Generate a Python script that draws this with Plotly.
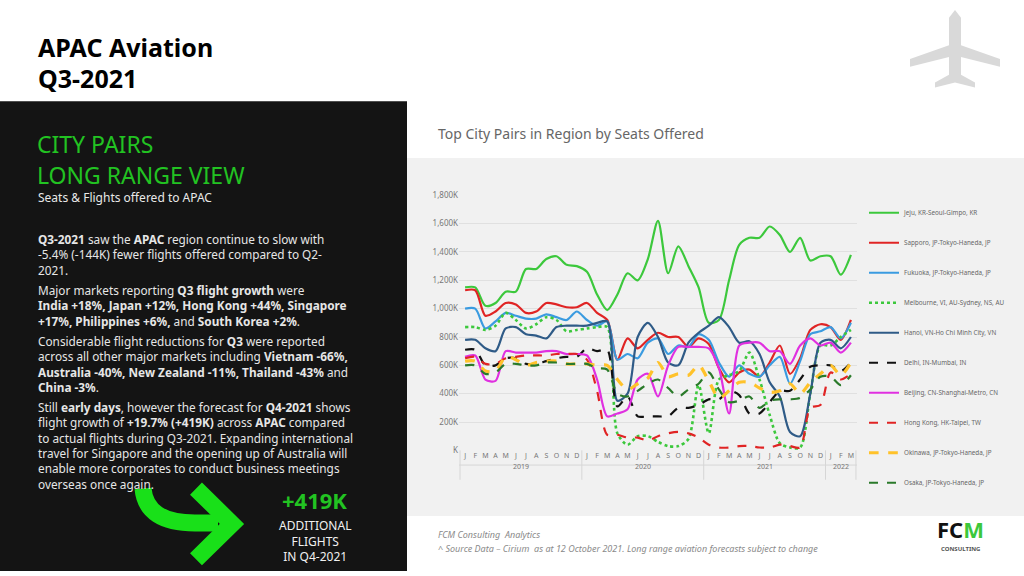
import plotly.graph_objects as go

W, H = 1024, 576
def px(x): return x / W
def py(y): return 1 - y / H

months = ["J","F","M","A","M","J","J","A","S","O","N","D"] * 3 + ["J","F","M"]
years = ["2019", "2020", "2021", "2022"]
year_centers = [5.5, 17.5, 29.5, 37]

names = ["Jeju, KR-Seoul-Gimpo, KR", "Sapporo, JP-Tokyo-Haneda, JP", "Fukuoka, JP-Tokyo-Haneda, JP",
         "Melbourne, VI, AU-Sydney, NS, AU", "Hanoi, VN-Ho Chi Minh City, VN", "Delhi, IN-Mumbai, IN",
         "Beijing, CN-Shanghai-Metro, CN", "Hong Kong, HK-Taipei, TW", "Okinawa, JP-Tokyo-Haneda, JP",
         "Osaka, JP-Tokyo-Haneda, JP"]

jeju = [1150,1150,1020,1040,1120,1120,1280,1280,1350,1370,1310,1300,1260,1100,990,1100,1250,1200,1350,1620,1250,1440,1300,1150,900,920,1200,1450,1500,1500,1580,1520,1400,1500,1340,1370,1370,1240,1380]
sapporo = [1130,1130,950,980,1040,1030,970,980,1040,1030,1010,1010,1040,970,920,640,790,720,780,830,800,800,730,790,750,580,480,550,570,520,620,740,540,650,850,890,870,780,920]
fukuoka = [1000,1000,860,910,970,950,930,930,960,940,920,980,920,880,910,640,680,650,760,790,680,740,730,820,780,620,520,600,540,520,600,660,470,630,820,840,870,790,900]
melbourne = [870,870,850,880,970,920,860,890,940,920,840,850,860,870,870,120,40,100,100,60,30,30,80,460,120,500,530,560,690,500,250,50,20,20,400,740,740,800,850]
hanoi = [780,780,720,700,860,870,820,810,790,870,880,880,880,900,910,350,400,800,900,800,620,600,760,830,880,940,870,760,770,680,480,380,130,100,400,760,780,720,800]
delhi = [710,710,600,600,650,650,610,610,630,650,660,660,720,700,710,310,380,240,240,240,240,300,300,320,360,360,420,390,260,260,340,420,420,500,590,600,600,560,620]
beijing = [660,670,500,490,700,690,690,690,700,700,680,680,670,500,240,260,290,500,540,380,600,730,730,730,720,580,260,740,760,760,700,700,610,740,790,740,760,690,760]
hongkong = [650,660,610,610,650,660,670,670,670,680,680,680,640,420,110,110,90,90,70,100,120,130,120,90,40,20,20,30,30,20,20,40,30,20,300,320,550,500,540]
okinawa = [630,630,560,560,660,640,600,620,630,630,610,610,610,600,600,500,430,470,510,620,520,540,530,600,490,370,420,480,480,440,410,420,470,400,480,540,600,530,620]
osaka = [600,600,540,550,610,610,600,600,620,620,610,610,610,580,570,400,380,420,470,500,440,380,430,470,550,430,340,350,380,300,350,360,360,370,430,520,520,460,530]

series = [jeju, sapporo, fukuoka, melbourne, hanoi, delhi, beijing, hongkong, okinawa, osaka]
colors = ["#3cc83c", "#e02424", "#3a9be0", "#3cc83c", "#2f5b87", "#111111", "#e030e0", "#e02424", "#ffc22a", "#2a7a2a"]
dashes = ["solid", "solid", "solid", "dot", "solid", "dash", "solid", "dash", "dash", "dash"]
widths = [2.2, 2.2, 2.2, 2.6, 2.2, 2.2, 2.2, 2.2, 3.2, 2.2]

fig = go.Figure()
x = list(range(len(months)))
for i, (n, s) in enumerate(zip(names, series)):
    fig.add_trace(go.Scatter(x=x, y=s, name=n, mode="lines", legendgroup=str(i),
                             line=dict(color=colors[i], dash=dashes[i], width=widths[i], shape="spline", smoothing=0.8)))

shapes = []
shapes.append(dict(type="rect", xref="paper", yref="paper", x0=px(407), x1=1, y0=py(520), y1=py(155),
                   fillcolor="#f1f1f1", line_width=0, layer="below"))
shapes.append(dict(type="rect", xref="paper", yref="paper", x0=0, x1=px(407), y0=0, y1=py(97),
                   fillcolor="#141414", line_width=0, layer="below"))
for b in [-0.5, 11.5, 23.5, 35.5, 38.5]:
    shapes.append(dict(type="line", xref="x", yref="paper", x0=b, x1=b, y0=py(483), y1=py(453),
                       line=dict(color="#d6d6d6", width=1)))
shapes.append(dict(type="line", xref="paper", yref="paper", x0=px(459), x1=px(857), y0=py(468), y1=py(468),
                   line=dict(color="#d6d6d6", width=1)))
shapes.append(dict(type="path", xref="paper", yref="paper",
                   path=f"M {px(143)} {py(492)} Q {px(146)} {py(527)} {px(195)} {py(527)} L {px(218)} {py(527)}",
                   line=dict(color="#19e019", width=17)))
shapes.append(dict(type="path", xref="paper", yref="paper",
                   path=f"M {px(196)} {py(492)} L {px(232)} {py(528)} L {px(196)} {py(564)}",
                   line=dict(color="#19e019", width=17)))
plane = [(955,4),(961,12),(961,40),(1000,54),(1000,62),(961,52),(961,70),(975,78),(975,83),(955,78),
         (935,83),(935,78),(949,70),(949,52),(910,62),(910,54),(949,40),(949,12)]
path = "M " + " L ".join(f"{px(a)} {py(b)}" for a, b in plane) + " Z"
shapes.append(dict(type="path", xref="paper", yref="paper", path=path, fillcolor="#d9d9d9", line_width=0))

ann = []
F = "Noto Sans"
def A(xp, yp, text, size, color, xanchor="left", yanchor="middle", **kw):
    ann.append(dict(xref="paper", yref="paper", x=px(xp), y=py(yp), text=text, showarrow=False,
                    xanchor=xanchor, yanchor=yanchor, align=kw.pop("align", "left"),
                    font=dict(family=kw.pop("family", F), size=size, color=color), **kw))

A(36, 42, "<b>APAC Aviation</b>", 25, "#000000")
A(36, 73, "<b>Q3-2021</b>", 25, "#000000")
A(35, 141, "CITY PAIRS", 23, "#22c322")
A(35, 172, "LONG RANGE VIEW", 23, "#22c322")
A(36, 195, "Seats &amp; Flights offered to APAC", 12, "#e8e8e8")
body = "#e6e6e6"
paras = [
    (227, "<b>Q3-2021</b> saw the <b>APAC</b> region continue to slow with<br>-5.4% (-144K) fewer flights offered compared to Q2-<br>2021."),
    (279, "Major markets reporting <b>Q3 flight growth</b> were<br><b>India +18%, Japan +12%, Hong Kong +44%, Singapore</b><br><b>+17%, Philippines +6%,</b> and <b>South Korea +2%</b>."),
    (331, "Considerable flight reductions for <b>Q3</b> were reported<br>across all other major markets including <b>Vietnam -66%,</b><br><b>Australia -40%, New Zealand -11%, Thailand -43%</b> and<br><b>China -3%</b>."),
    (399, "Still <b>early days</b>, however the forecast for <b>Q4-2021</b> shows<br>flight growth of <b>+19.7% (+419K)</b> across <b>APAC</b> compared<br>to actual flights during Q3-2021. Expanding international<br>travel for Singapore and the opening up of Australia will<br>enable more corporates to conduct business meetings<br>overseas once again."),
]
for y0, t in paras:
    A(36, y0, t, 11.8, body, yanchor="top")
A(314, 504, "<b>+419K</b>", 22, "#22c322", xanchor="center")
A(315, 545, "ADDITIONAL<br>FLIGHTS<br>IN Q4-2021", 12, "#f0f0f0", xanchor="center", align="center")

A(436, 130, "Top City Pairs in Region by Seats Offered", 14, "#666666")
A(436, 539, "<i>FCM Consulting  Analytics</i>", 9, "#8a8a8a")
A(436, 553, "<i>^ Source Data – Cirium  as at 12 October 2021. Long range aviation forecasts subject to change</i>", 9, "#8a8a8a")
A(960, 533, "<b>FC<span style='color:#3cc83c'>M</span></b>", 22, "#111111", xanchor="center")
A(960, 554, "<b>CONSULTING</b>", 6, "#555555", xanchor="center")

for yr, c in zip(years, year_centers):
    ann.append(dict(xref="x", yref="paper", x=c, y=py(476), text=yr, showarrow=False,
                    font=dict(family=F, size=7, color="#777777")))

fig.update_layout(
    width=W, height=H, margin=dict(l=0, r=0, t=0, b=0),
    paper_bgcolor="#ffffff", plot_bgcolor="rgba(0,0,0,0)",
    shapes=shapes, annotations=ann,
    xaxis=dict(domain=[px(459), px(857)], range=[-0.6, 38.6], tickmode="array", tickvals=x, ticktext=months,
               showgrid=False, zeroline=False, tickfont=dict(family=F, size=7, color="#777777"), ticks=""),
    yaxis=dict(domain=[py(453), py(193)], range=[0, 1800], tickvals=[0,200,400,600,800,1000,1200,1400,1600,1800],
               ticktext=["K","200K","400K","600K","800K","1,000K","1,200K","1,400K","1,600K","1,800K"],
               gridcolor="#e0e0e0", zeroline=False, tickfont=dict(family=F, size=8, color="#777777")),
    legend=dict(x=px(864), y=py(196), xanchor="left", yanchor="top", bgcolor="rgba(0,0,0,0)",
                font=dict(family=F, size=6.3, color="#666666"), tracegroupgap=11, itemwidth=30),
    showlegend=True,
)
fig.write_html("out.html", config={"displayModeBar": False},
               post_script="document.body.style.margin='0';document.body.style.padding='0';")
